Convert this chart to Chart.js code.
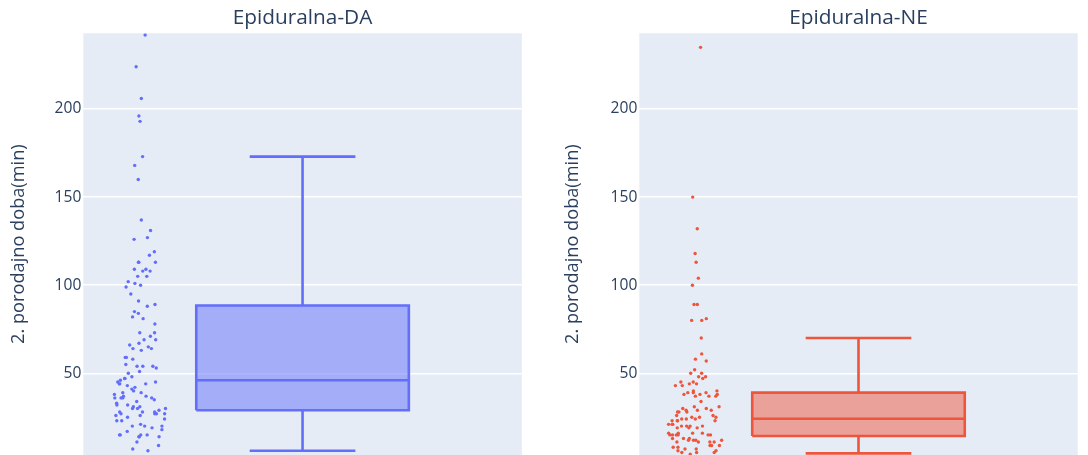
<!DOCTYPE html>
<html><head><meta charset="utf-8">
<script src="https://cdn.jsdelivr.net/npm/chart.js@4.4.0/dist/chart.umd.min.js"></script>
<style>
html,body{margin:0;padding:0;background:#fff;overflow:hidden;width:1088px;height:455px}
#a{position:absolute;left:0;top:0}
#b{position:absolute;left:545px;top:0}
</style></head><body>
<canvas id="a" width="545" height="455"></canvas>
<canvas id="b" width="543" height="455"></canvas>
<script>
// ---- data ----
const groups = ['Epiduralna-DA', 'Epiduralna-NE'];
const yTitle = '2. porodajno doba(min)';
const yTicks = [50, 100, 150, 200];
const yRange = [3.6, 243];

const valuesDA = [242, 224, 206, 196, 193, 173, 168, 160, 137, 131, 127, 126, 119, 117, 113, 113, 113,
  109, 109, 108, 108, 105, 105, 102, 101, 100, 99, 95, 91, 89, 88, 85, 84, 82, 81, 78, 73, 73, 71,
  69, 69, 67, 66, 65, 64, 64, 63, 59, 59, 58, 55, 54, 54, 54, 53, 51, 50, 48, 47, 47, 46, 45, 45,
  44, 44, 44, 43, 42, 41, 40, 39, 39, 38, 37, 37, 36, 36, 36, 36, 35, 34, 33, 32, 32, 31, 31, 30,
  30, 30, 29, 28, 28, 28, 27, 27, 27, 27, 26, 26, 25, 24, 23, 23, 21, 20, 20, 20, 19, 18, 17, 15,
  15, 15, 15, 14, 14, 14, 11, 9, 7, 6];

const valuesNE = [235, 150, 132, 118, 113, 104, 100, 89, 89, 81, 80, 80, 70, 61, 58, 57, 52, 50, 50,
  48, 48, 47, 45, 45, 44, 44, 43, 43, 40, 40, 39, 39, 39, 38, 38, 38, 37, 37, 37, 34,
  31, 31, 30, 30, 29, 29, 29, 28, 28, 28,
  26, 26, 25, 25, 25, 24, 24, 24, 23, 23, 23, 23,
  21, 21, 21, 20, 20, 20, 20, 19, 19, 19,
  16, 16, 16, 15, 15, 15, 15, 15, 16, 15,
  13, 13, 13, 12, 12, 12, 12, 11, 11, 11, 11,
  9, 9, 9, 8, 8, 7, 7, 6, 6,
  5, 5, 5, 4];

const lowerFence = [6, 4.5];
const q1 = [29, 14.4];
const median = [46, 24.2];
const q3 = [88.5, 39];
const upperFence = [173, 70];

// ---- style ----
const colors = ['#636efa', '#EF553B'];
const fills = ['rgba(99,110,250,0.5)', 'rgba(239,85,59,0.5)'];
const TEXT = '#2a3f5f';
const FONT = "'Open Sans', 'Liberation Sans', sans-serif";
const BOX_HW = 0.2424, CAP_HW = 0.1205, POINT_POS = -0.369, JIT = 0.068;

function jitterX(vals) {
  const dens = vals.map(v => vals.filter(w => Math.abs(w - v) <= 8).length);
  const maxD = Math.max(...dens);
  return vals.map((v, i) => {
    const s = Math.sin((i + 1) * 12.9898) * 43758.5453;
    const u = (s - Math.floor(s)) * 2 - 1;
    return POINT_POS + JIT * Math.sqrt(dens[i] / maxD) * u;
  });
}

const bgPlugin = {
  id: 'bg',
  beforeDraw(chart) {
    const {ctx, chartArea: a} = chart;
    ctx.save();
    ctx.fillStyle = '#E5ECF6';
    ctx.fillRect(a.left, a.top, a.right - a.left, a.bottom - a.top);
    ctx.restore();
  }
};

function makeChart(id, g, vals, axisWidth, padRight, titlePad) {
  const xs = jitterX(vals);
  const c = colors[g];
  const lineDs = (data, extra) => Object.assign({
    type: 'line', data, borderColor: c, borderWidth: 2.6, pointRadius: 0,
    pointHoverRadius: 0, fill: false, spanGaps: false, tension: 0
  }, extra || {});
  return new Chart(document.getElementById(id), {
    type: 'scatter',
    data: {
      datasets: [
        {
          data: vals.map((v, i) => ({x: xs[i], y: v})),
          backgroundColor: c, pointRadius: 1.7, pointBorderWidth: 0, pointHoverRadius: 1.7
        },
        lineDs([{x: -BOX_HW, y: median[g]}, {x: BOX_HW, y: median[g]}]),
        lineDs([{x: -BOX_HW, y: q1[g]}, {x: -BOX_HW, y: q3[g]}, {x: BOX_HW, y: q3[g]},
                {x: BOX_HW, y: q1[g]}, {x: -BOX_HW, y: q1[g]}]),
        lineDs([{x: -BOX_HW, y: q3[g]}, {x: BOX_HW, y: q3[g]}],
               {borderWidth: 0, fill: {value: q1[g]}, backgroundColor: fills[g]}),
        lineDs([{x: 0, y: q3[g]}, {x: 0, y: upperFence[g]}, {x: 0, y: null},
                {x: -CAP_HW, y: upperFence[g]}, {x: CAP_HW, y: upperFence[g]}, {x: 0, y: null},
                {x: 0, y: q1[g]}, {x: 0, y: lowerFence[g]}, {x: 0, y: null},
                {x: -CAP_HW, y: lowerFence[g]}, {x: CAP_HW, y: lowerFence[g]}])
      ]
    },
    options: {
      responsive: false,
      animation: false,
      events: [],
      layout: {autoPadding: false, padding: {left: 0, right: padRight, top: 0, bottom: 0}},
      plugins: {
        legend: {display: false},
        tooltip: {enabled: false},
        title: {
          display: true, text: groups[g], fullSize: false, color: TEXT,
          font: {family: FONT, size: 20.8, weight: 'normal', lineHeight: 1.2},
          padding: {top: 6, bottom: 2.3}
        }
      },
      scales: {
        x: {type: 'linear', min: -0.5, max: 0.5, display: false},
        y: {
          type: 'linear', min: yRange[0], max: yRange[1],
          afterBuildTicks: s => { s.ticks = yTicks.map(v => ({value: v})); },
          afterFit: s => { s.width = axisWidth; s.paddingTop = 0; s.paddingBottom = 0; },
          border: {display: false},
          grid: {color: '#ffffff', lineWidth: 1.5, drawTicks: false},
          ticks: {color: TEXT, padding: 2, font: {family: FONT, size: 15.6}},
          title: {
            display: true, text: yTitle, color: TEXT,
            font: {family: FONT, size: 18.2, lineHeight: 1.2},
            padding: {top: titlePad, bottom: 0}
          }
        }
      }
    },
    plugins: [bgPlugin]
  });
}

makeChart('a', 0, valuesDA, 83.3, 23.2, 8.4);
makeChart('b', 1, valuesNE, 94.3, 10.3, 17);
</script>
</body></html>
